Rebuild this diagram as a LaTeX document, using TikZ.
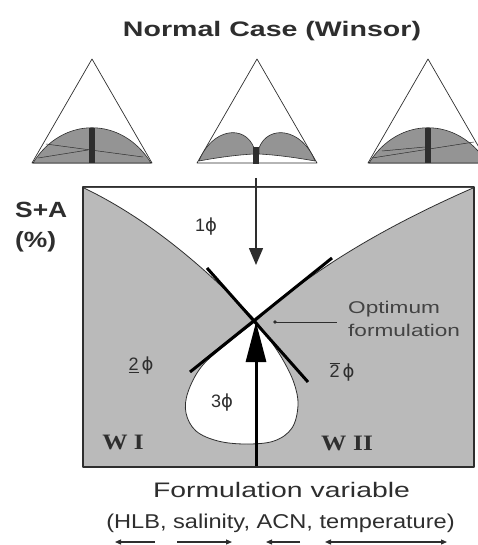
\documentclass[tikz,border=0pt]{standalone}
\usepackage{fontspec}
\usepackage{graphicx}
\newfontfamily\arialf{Liberation Sans}
\newfontfamily\timesf{Liberation Serif}
\newfontfamily\dejaf{DejaVu Sans}
\newcommand{\phis}{{\dejaf ϕ}}
\usetikzlibrary{arrows.meta}
\definecolor{boxgray}{gray}{0.73}
\definecolor{domegray}{gray}{0.58}
\definecolor{ink}{gray}{0.18}
\tikzset{
  tri/.style={draw=ink, line width=0.7pt},
  dome/.style={fill=domegray, draw=ink, line width=0.6pt},
  tie/.style={draw=ink, line width=0.5pt},
  bar/.style={fill=ink},
  tangent/.style={draw=black, line width=3pt},
  lbl/.style={font=\arialf\fontsize{18}{18}\selectfont, text=ink, inner sep=0pt},
  wlbl/.style={font=\timesf\bfseries\fontsize{22}{22}\selectfont, text=ink, inner sep=0pt},
  smallarrow/.style={draw=ink, line width=1.2pt, -{Triangle[length=6pt,width=5pt]}},
}
\begin{document}
\begin{tikzpicture}[x=1pt,y=-1pt,line join=round]
\useasboundingbox (0,0) rectangle (478,545);

% title
\node[font=\arialf\bfseries\fontsize{21}{21}\selectfont, text=ink] (title) at (272,31) {\scalebox{1.36}[1]{Normal Case (Winsor)}};

% left triangle
\draw[tri] (32,163) -- (92,59) -- (152,163) -- cycle;
\draw[dome] (33,163) .. controls (62,116) and (122,116) .. (151,163) -- cycle;
\draw[tie] (46,144) -- (143,157);
\draw[tie] (38,158) -- (88,150);
\fill[bar] (89,128) rectangle (95,163);

% middle triangle
\draw[tri] (197,163) -- (257,59) -- (317,163) -- cycle;
\draw[dome] (199,161) .. controls (212,128) and (245,124) .. (254,148) -- (254,154) .. controls (235,155) and (215,158) .. (199,161) -- cycle;
\draw[dome] (259,148) .. controls (268,124) and (302,128) .. (315,161) .. controls (298,158) and (278,155) .. (259,154) -- cycle;
\fill[bar] (253,147) rectangle (259,164);

% right triangle
\draw[tri] (368,163) -- (428,59) -- (488,163) -- cycle;
\draw[dome] (369,163) .. controls (398,116) and (458,116) .. (487,163) -- cycle;
\draw[tie] (372,158) -- (474,142);
\draw[tie] (382,151) -- (425,147);
\fill[bar] (425,128) rectangle (431,163);

% S+A label
\node[font=\arialf\bfseries\fontsize{22}{22}\selectfont, text=ink, anchor=west, inner sep=0pt] (sa) at (15,210) {\scalebox{1.2}[1]{S+A}};
\node[font=\arialf\bfseries\fontsize{22}{22}\selectfont, text=ink, anchor=west, inner sep=0pt] (pct) at (15,242) {\scalebox{1.2}[1]{(\%)}};

% main box
\draw[fill=boxgray, draw=ink, line width=1.5pt] (83,187) rectangle (474,467);

\coordinate (cross) at (256,321);
\coordinate (tl) at (84,188);
\coordinate (tr) at (473,188);

% 1 phase region
\fill[white] (tl) .. controls (140.7,215.3) and (198,259.3) .. (cross)
  .. controls (308.7,272.3) and (381,228.3) .. (tr) -- cycle;
\draw[ink, line width=0.8pt] (tl) .. controls (140.7,215.3) and (198,259.3) .. (cross)
  .. controls (308.7,272.3) and (381,228.3) .. (tr);

% 3 phase region
\draw[fill=white, draw=ink, line width=0.8pt] plot[smooth, tension=0.6] coordinates
 {(256,321) (228,343) (202,366) (188,392) (186,413) (196,431) (218,441) (246,444) (274,441) (292,428) (298,405) (294,383) (283,360) (268,337) (256,321)};

% tangent lines
\coordinate (t1a) at (207,268);
\coordinate (t1b) at (308,382);
\coordinate (t2a) at (332,258);
\coordinate (t2b) at (190,372);
\draw[tangent] (t1a) -- (t1b);
\draw[tangent] (t2a) -- (t2b);

% arrows
\coordinate (topmid) at (256,178);
\coordinate (downtip) at (256,265);
\coordinate (botmid) at (256,466);
\coordinate (uptip) at (256,322);
\draw[ink, line width=1.5pt, -{Triangle[length=17pt,width=14pt]}] (topmid) -- (downtip);
\draw[black, line width=3pt, -{Triangle[length=40pt,width=20pt]}] (botmid) -- (uptip);

% optimum pointer
\coordinate (optdot) at (275,322);
\coordinate (optend) at (337,322);
\fill[ink] (optdot) circle (1.8);
\draw[ink, line width=0.7pt] (optdot) -- (optend);
\node[font=\arialf\fontsize{17}{17}\selectfont, text=ink!90, anchor=base west, inner sep=0pt] (opt1) at (348,313) {\scalebox{1.33}[1]{Optimum}};
\node[font=\arialf\fontsize{17}{17}\selectfont, text=ink!90, anchor=base west, inner sep=0pt] (opt2) at (348,336) {\scalebox{1.33}[1]{formulation}};

% phase labels
\node[lbl] (p1) at (206,227) {1\phis};
\node[lbl] (p2u) at (141,366) {\underline{2}\,\phis};
\node[lbl] (p3) at (222,403) {3\phis};
\node[lbl] (p2o) at (342,372) {$\overline{\mbox{2}}$\,\phis};
\node[wlbl] (w1) at (123,442) {\scalebox{1.15}[1]{W I}};
\node[wlbl] (w2) at (347,443) {\scalebox{1.15}[1]{W\hspace{6pt}II}};

% axis labels
\node[font=\arialf\fontsize{21}{21}\selectfont, text=ink] (fv) at (281.5,490) {\scalebox{1.35}[1]{Formulation variable}};
\node[font=\arialf\fontsize{20}{20}\selectfont, text=ink] (vars) at (280.5,523) {\scalebox{1.18}[1]{(HLB, salinity, ACN, temperature)}};

% bottom arrows
\coordinate (a1s) at (155,542); \coordinate (a1e) at (115,542);
\coordinate (a2s) at (177,542); \coordinate (a2e) at (232,542);
\coordinate (a3s) at (300,542); \coordinate (a3e) at (266,542);
\coordinate (a4s) at (325,542); \coordinate (a4e) at (447,542);
\draw[smallarrow] (a1s) -- (a1e);
\draw[smallarrow] (a2s) -- (a2e);
\draw[smallarrow] (a3s) -- (a3e);
\draw[smallarrow, {Triangle[length=6pt,width=5pt]}-{Triangle[length=6pt,width=5pt]}] (a4s) -- (a4e);
\end{tikzpicture}
\end{document}
